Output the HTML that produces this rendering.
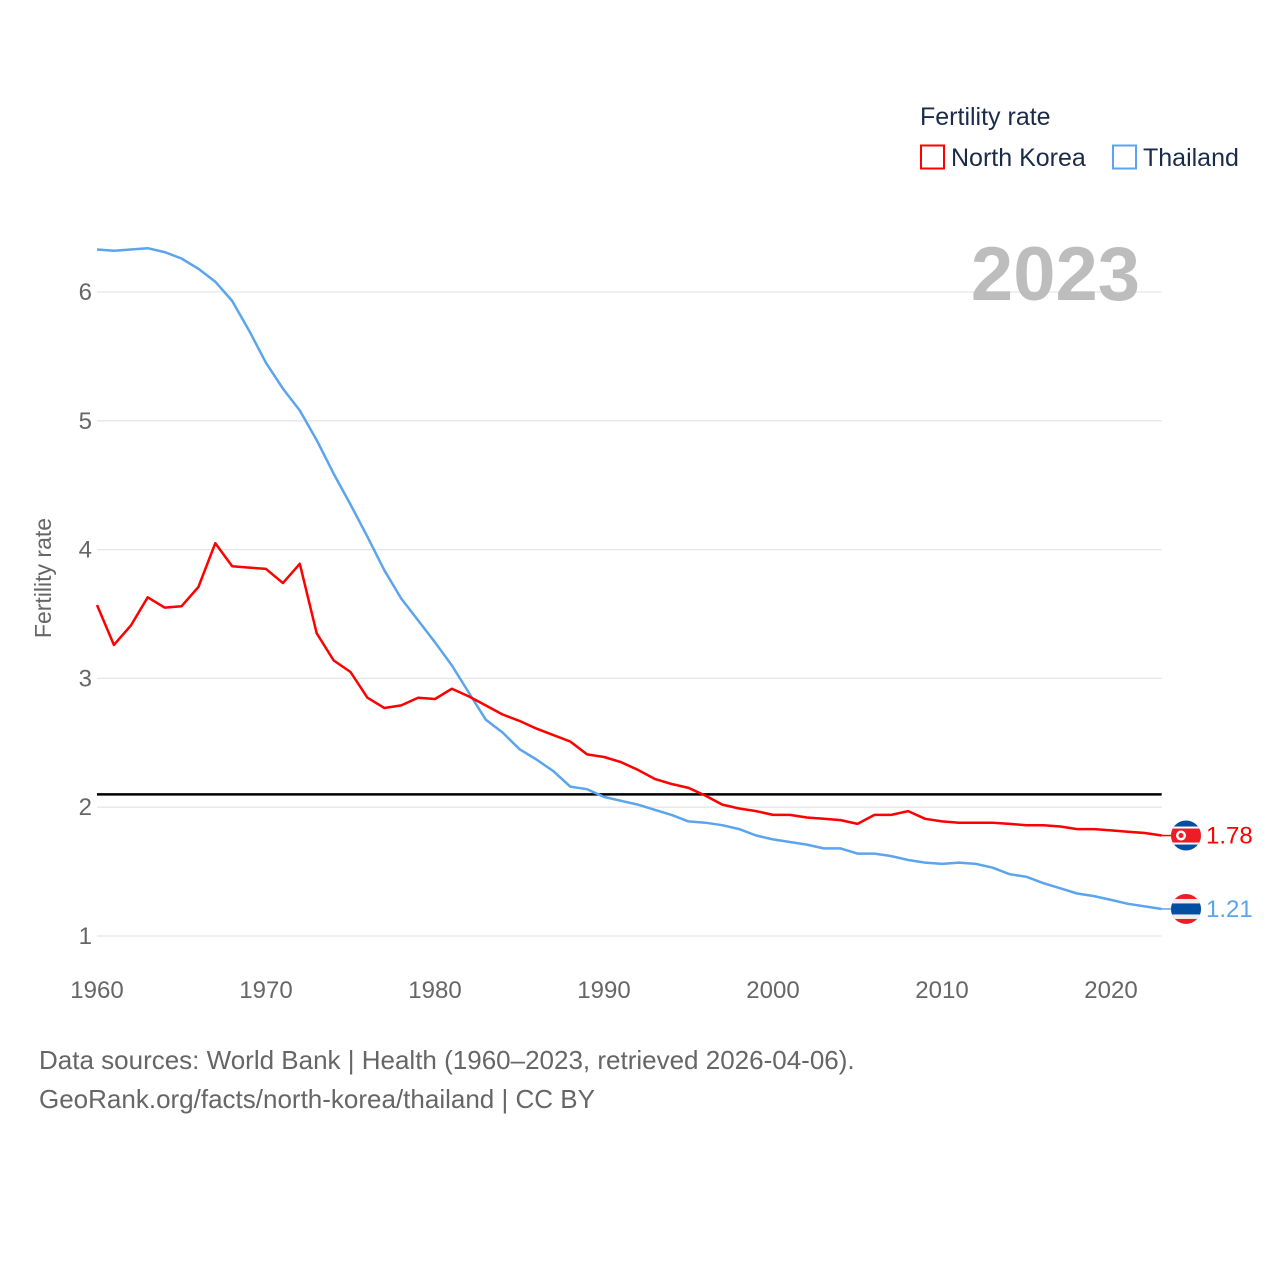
<!DOCTYPE html>
<html><head><meta charset="utf-8"><style>
html,body{margin:0;padding:0;background:#fff;}
body{width:1280px;height:1280px;overflow:hidden;font-family:"Liberation Sans",sans-serif;}
</style></head><body>
<svg id="chart" width="1280" height="1280" xmlns="http://www.w3.org/2000/svg" font-family="Liberation Sans, sans-serif">
<g id="grid"></g>
<g id="yticks"></g>
<g id="xticks"></g>
<text x="1140" y="300" text-anchor="end" font-size="76" font-weight="bold" fill="#bdbdbd">2023</text>
<text transform="translate(51,578) rotate(-90)" text-anchor="middle" font-size="23" fill="#666">Fertility rate</text>
<g id="series"></g>
<g>
<text x="920" y="125" font-size="25" fill="#1a2b4a">Fertility rate</text>
<g>
<rect x="921" y="145.5" width="23" height="23" fill="none" stroke="#ff0000" stroke-width="2"/>
<text x="951" y="166" font-size="25" fill="#1a2b4a">North Korea</text></g>
<g>
<rect x="1113" y="145.5" width="23" height="23" fill="none" stroke="#5ba4ee" stroke-width="2"/>
<text x="1143" y="166" font-size="25" fill="#1a2b4a">Thailand</text></g>
</g>
<g id="ends"></g>
<text x="39" y="1069" font-size="26" fill="#666">Data sources: World Bank | Health (1960–2023, retrieved 2026-04-06).</text>
<text x="39" y="1108" font-size="26" fill="#666">GeoRank.org/facts/north-korea/thailand | CC BY</text>
</svg>
<script>
const years = [];
for (let y = 1960; y <= 2023; y++) years.push(y);
const northKorea = [3.57,3.26,3.41,3.63,3.55,3.56,3.71,4.05,3.87,3.86,3.85,3.74,3.89,3.35,3.14,3.05,2.85,2.77,2.79,2.85,2.84,2.92,2.86,2.79,2.72,2.67,2.61,2.56,2.51,2.41,2.39,2.35,2.29,2.22,2.18,2.15,2.09,2.02,1.99,1.97,1.94,1.94,1.92,1.91,1.90,1.87,1.94,1.94,1.97,1.91,1.89,1.88,1.88,1.88,1.87,1.86,1.86,1.85,1.83,1.83,1.82,1.81,1.80,1.78];
const thailand = [6.33,6.32,6.33,6.34,6.31,6.26,6.18,6.08,5.93,5.70,5.45,5.25,5.08,4.85,4.59,4.35,4.10,3.84,3.62,3.45,3.28,3.10,2.89,2.68,2.58,2.45,2.37,2.28,2.16,2.14,2.08,2.05,2.02,1.98,1.94,1.89,1.88,1.86,1.83,1.78,1.75,1.73,1.71,1.68,1.68,1.64,1.64,1.62,1.59,1.57,1.56,1.57,1.56,1.53,1.48,1.46,1.41,1.37,1.33,1.31,1.28,1.25,1.23,1.21];
const yTicks = [1,2,3,4,5,6];
const xTicks = [1960,1970,1980,1990,2000,2010,2020];
const replacementRate = [2.1];
const endLabels = ["1.78","1.21"];

const NS = "http://www.w3.org/2000/svg";
const X0 = 97, X1 = 1161.7, Y1px = 936, Y6px = 292;
const xs = v => X0 + (v - 1960) * (X1 - X0) / (2023 - 1960);
const ys = v => Y1px - (v - 1) * (Y1px - Y6px) / 5;
function mk(tag, attrs, parent) {
  const e = document.createElementNS(NS, tag);
  for (const k in attrs) e.setAttribute(k, attrs[k]);
  parent.appendChild(e); return e;
}
const grid = document.getElementById('grid');
const yt = document.getElementById('yticks');
yTicks.forEach(t => {
  const l = mk('line', {x1: X0, x2: X1, y1: ys(t), y2: ys(t), stroke: '#e6e6e6', 'stroke-width': 1.3}, grid);
  
  
  const tx = mk('text', {x: 92, y: ys(t) + 8, 'text-anchor': 'end', 'font-size': 24, fill: '#666'}, yt);
  tx.textContent = t;
  
  
});
const xt = document.getElementById('xticks');
xTicks.forEach(t => {
  const tx = mk('text', {x: xs(t), y: 998, 'text-anchor': 'middle', 'font-size': 24, fill: '#666'}, xt);
  tx.textContent = t;
  
  
});
const sg = document.getElementById('series');
const rl = mk('line', {x1: X0, x2: X1, y1: ys(replacementRate[0]), y2: ys(replacementRate[0]), stroke: '#000', 'stroke-width': 2.5}, sg);


function line(data, color, name) {
  const d = data.map((v, i) => (i ? 'L' : 'M') + xs(years[i]).toFixed(1) + ',' + ys(v).toFixed(1)).join('');
  const p = mk('path', {d: d, fill: 'none', stroke: color, 'stroke-width': 2.5, 'stroke-linejoin': 'round'}, sg);
  
  
}
line(thailand, '#5ba4ee', 'thailand-line');
line(northKorea, '#ff0000', 'north-korea-line');

const ends = document.getElementById('ends');
function flag(cy, type) {
  const cx = 1186, r = 15;
  const g = mk('g', {}, ends);
  
  
  const id = 'clip' + type;
  const cp = mk('clipPath', {id: id}, g);
  mk('circle', {cx: cx, cy: cy, r: r}, cp);
  const gg = mk('g', {'clip-path': 'url(#' + id + ')'}, g);
  if (type === 'north-korea') {
    mk('rect', {x: cx - r, y: cy - r, width: 2 * r, height: 2 * r, fill: '#024fa2'}, gg);
    mk('rect', {x: cx - r, y: cy - 9, width: 2 * r, height: 18, fill: '#fff'}, gg);
    mk('rect', {x: cx - r, y: cy - 7, width: 2 * r, height: 14, fill: '#ed1c27'}, gg);
    mk('circle', {cx: cx - 5, cy: cy, r: 5, fill: '#fff'}, gg);
    mk('circle', {cx: cx - 5, cy: cy, r: 2.5, fill: '#ed1c27'}, gg);
  } else {
    mk('rect', {x: cx - r, y: cy - r, width: 2 * r, height: 2 * r, fill: '#ed1c27'}, gg);
    mk('rect', {x: cx - r, y: cy - 10, width: 2 * r, height: 20, fill: '#eee'}, gg);
    mk('rect', {x: cx - r, y: cy - 5.5, width: 2 * r, height: 11, fill: '#024fa2'}, gg);
  }
}
[[northKorea, '#ff0000', 'north-korea', 0], [thailand, '#5ba4ee', 'thailand', 1]].forEach(([data, col, nm, i]) => {
  const v = data[data.length - 1], cy = ys(v);
  mk('line', {x1: X1, x2: 1172, y1: cy, y2: cy, stroke: col, 'stroke-width': 1.5}, ends);
  flag(cy, nm);
  const t = mk('text', {x: 1206, y: cy + 8, 'font-size': 24, fill: col}, ends);
  t.textContent = endLabels[i];
  
  
});
</script>
</body></html>
